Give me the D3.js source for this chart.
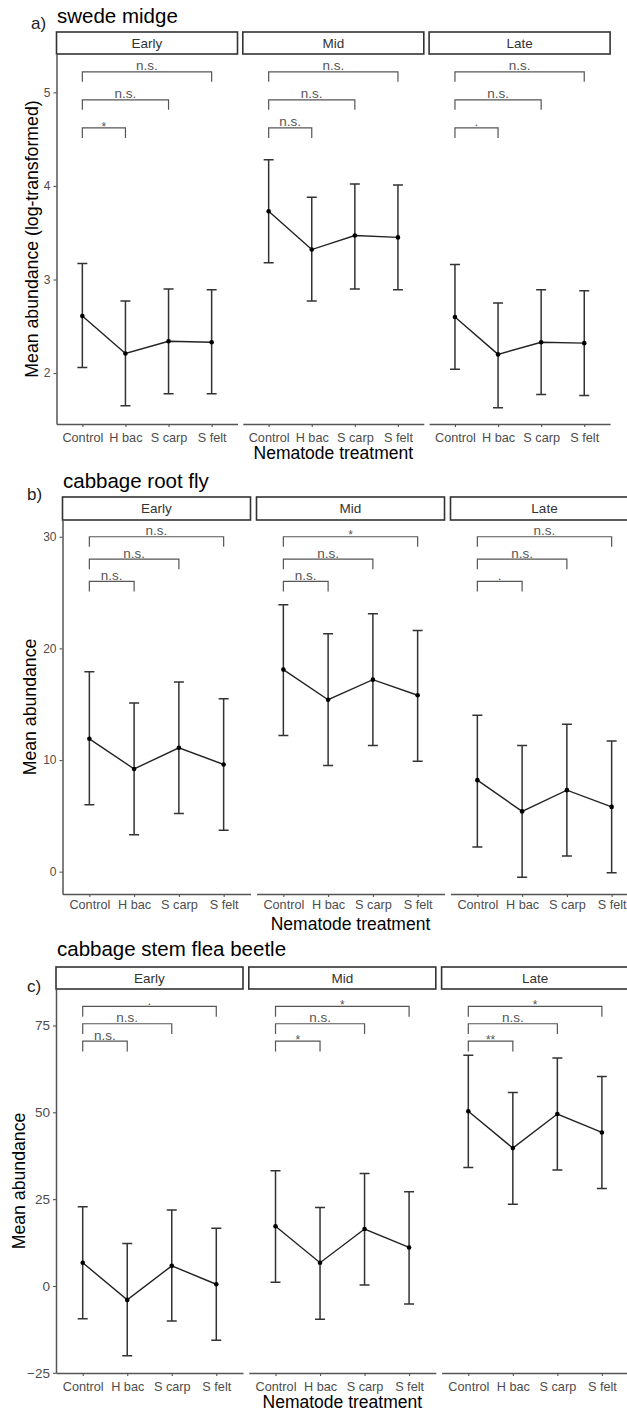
<!DOCTYPE html>
<html>
<head>
<meta charset="utf-8">
<script src="https://cdnjs.cloudflare.com/ajax/libs/d3/7.8.5/d3.min.js"></script>
<style>
  html, body { margin: 0; padding: 0; background: #ffffff; }
  svg { display: block; font-family: "Liberation Sans", Arial, sans-serif; }
</style>
</head>
<body>
<script>
// Shared categories
const treatments = ["Control", "H bac", "S carp", "S felt"];
const periods = ["Early", "Mid", "Late"];

// a) swede midge (log-transformed), one row per period
const midgeMean  = [[2.61, 2.21, 2.34, 2.33], [3.73, 3.32, 3.47, 3.45], [2.60, 2.20, 2.33, 2.32]];
const midgeLower = [[2.06, 1.65, 1.78, 1.78], [3.18, 2.77, 2.90, 2.89], [2.04, 1.63, 1.77, 1.76]];
const midgeUpper = [[3.17, 2.77, 2.90, 2.89], [4.28, 3.88, 4.02, 4.01], [3.16, 2.75, 2.89, 2.88]];
const midgeSig   = [["*", "n.s.", "n.s."], ["n.s.", "n.s.", "n.s."], [".", "n.s.", "n.s."]];
const midgeBracketY = [4.62, 4.92, 5.22];
const midgeTicks = [2, 3, 4, 5];

// b) cabbage root fly
const rootMean  = [[11.9, 9.2, 11.1, 9.6], [18.1, 15.4, 17.2, 15.8], [8.2, 5.4, 7.3, 5.8]];
const rootLower = [[6.0, 3.3, 5.2, 3.7], [12.2, 9.5, 11.3, 9.9], [2.2, -0.5, 1.4, -0.1]];
const rootUpper = [[17.9, 15.1, 17.0, 15.5], [23.9, 21.3, 23.1, 21.6], [14.0, 11.3, 13.2, 11.7]];
const rootSig   = [["n.s.", "n.s.", "n.s."], ["n.s.", "n.s.", "*"], [".", "n.s.", "n.s."]];
const rootBracketY = [26, 28, 30];
const rootTicks = [0, 10, 20, 30];

// c) cabbage stem flea beetle
const beetleMean  = [[6.7, -4.0, 5.8, 0.5], [17.2, 6.7, 16.4, 11.1], [50.3, 39.7, 49.5, 44.2]];
const beetleLower = [[-9.4, -20.1, -10.1, -15.6], [1.1, -9.6, 0.3, -5.2], [34.1, 23.5, 33.4, 28.1]];
const beetleUpper = [[22.8, 12.2, 21.9, 16.6], [33.2, 22.6, 32.4, 27.1], [66.4, 55.7, 65.6, 60.3]];
const beetleSig   = [["n.s.", "n.s.", "."], ["*", "n.s.", "*"], ["**", "n.s.", "*"]];
const beetleBracketY = [70.5, 75.5, 80.5];
const beetleTicks = [-25, 0, 25, 50, 75];

const W = 627, H = 1414;
const svg = d3.select("body").append("svg").attr("width", W).attr("height", H);

const AXIS = "#555555", TEXT_GREY = "#4d4d4d", INK = "#222222";

const plots = [
  {
    letter: "a)", title: "swede midge", yTitle: "Mean abundance (log-transformed)",
    mean: midgeMean, lower: midgeLower, upper: midgeUpper, sig: midgeSig,
    brackets: midgeBracketY, ticks: midgeTicks,
    L: { x0: 56.5, w: 181, step: 186.3, stripTop: 32, plotTop: 54, plotBottom: 424,
         yDomain: [1.456, 5.41], letterX: 31, letterY: 29, titleX: 57, titleY: 23,
         yTitleX: 38, xTickBase: 441.5, xTitleBase: 458.5, yTickFont: 12 }
  },
  {
    letter: "b)", title: "cabbage root fly", yTitle: "Mean abundance",
    mean: rootMean, lower: rootLower, upper: rootUpper, sig: rootSig,
    brackets: rootBracketY, ticks: rootTicks,
    L: { x0: 62.5, w: 188, step: 194, stripTop: 497, plotTop: 520, plotBottom: 894,
         yDomain: [-2.0, 31.5], letterX: 27, letterY: 500, titleX: 63, titleY: 488,
         yTitleX: 36, xTickBase: 909.5, xTitleBase: 930, yTickFont: 12 }
  },
  {
    letter: "c)", title: "cabbage stem flea beetle", yTitle: "Mean abundance",
    mean: beetleMean, lower: beetleLower, upper: beetleUpper, sig: beetleSig,
    brackets: beetleBracketY, ticks: beetleTicks,
    L: { x0: 56, w: 187, step: 192.8, stripTop: 967, plotTop: 989, plotBottom: 1373,
         yDomain: [-25.05, 85.5], letterX: 27, letterY: 992, titleX: 57, titleY: 956,
         yTitleX: 25, xTickBase: 1390.5, xTitleBase: 1408, yTickFont: 13.5 }
  }
];

const TICK_FONT = 12.7;

function drawPlot(spec) {
  const L = spec.L;
  const g = svg.append("g");
  const y = d3.scaleLinear().domain(L.yDomain).range([L.plotBottom, L.plotTop]);
  const tip = 0.027 * (L.yDomain[1] - L.yDomain[0]);

  // figure letter and title
  g.append("text").attr("x", L.letterX).attr("y", L.letterY)
    .attr("font-size", 17).attr("fill", INK).text(spec.letter);
  g.append("text").attr("x", L.titleX).attr("y", L.titleY)
    .attr("font-size", 20.5).attr("fill", "#000").text(spec.title);

  periods.forEach((period, i) => {
    const x0 = L.x0 + i * L.step;
    const x = d3.scalePoint().domain(treatments).range([x0, x0 + L.w]).padding(0.6);

    // facet strip
    g.append("rect")
      .attr("x", x0).attr("y", L.stripTop)
      .attr("width", L.w).attr("height", L.plotTop - L.stripTop)
      .attr("fill", "#fff").attr("stroke", "#333").attr("stroke-width", 1.6);
    g.append("text")
      .attr("x", x0 + L.w / 2).attr("y", (L.stripTop + L.plotTop) / 2 + 4.8)
      .attr("text-anchor", "middle").attr("font-size", 13.5).attr("fill", "#333")
      .text(period);

    // x axis
    const pad = L.xTickBase - L.plotBottom - 3 - 0.71 * TICK_FONT;
    const xa = g.append("g").attr("transform", `translate(0,${L.plotBottom})`)
      .call(d3.axisBottom(x).tickSize(3).tickSizeOuter(0).tickPadding(pad));
    xa.select(".domain").attr("stroke", AXIS).attr("stroke-width", 1.5);
    xa.selectAll(".tick line").attr("stroke", AXIS).attr("stroke-width", 1.1);
    xa.selectAll(".tick text").attr("font-size", TICK_FONT).attr("fill", TEXT_GREY)
      .attr("font-family", null);

    // y axis on the first facet only
    if (i === 0) {
      const ya = g.append("g").attr("transform", `translate(${x0},0)`)
        .call(d3.axisLeft(y).tickValues(spec.ticks).tickSize(3).tickSizeOuter(0).tickPadding(3)
          .tickFormat(d3.format("d")));
      ya.select(".domain").attr("stroke", AXIS).attr("stroke-width", 1.5);
      ya.selectAll(".tick line").attr("stroke", AXIS).attr("stroke-width", 1.1);
      ya.selectAll(".tick text").attr("font-size", L.yTickFont).attr("fill", TEXT_GREY)
        .attr("font-family", null);
    }

    // significance brackets: Control vs each treatment
    spec.brackets.forEach((yv, k) => {
      const xa1 = x(treatments[0]), xb = x(treatments[k + 1]);
      g.append("path")
        .attr("d", `M${xa1},${y(yv - tip)}V${y(yv)}H${xb}V${y(yv - tip)}`)
        .attr("fill", "none").attr("stroke", "#555").attr("stroke-width", 1.2);
      const lab = spec.sig[i][k];
      const star = lab.indexOf("*") >= 0;
      g.append("text")
        .attr("x", (xa1 + xb) / 2)
        .attr("y", y(yv) + (star ? 2.6 : -1.5))
        .attr("text-anchor", "middle")
        .attr("font-size", star ? 12 : 13.5)
        .attr("fill", "#555")
        .text(lab);
    });

    const rows = treatments.map((t, j) => ({
      t, m: spec.mean[i][j], lo: spec.lower[i][j], hi: spec.upper[i][j]
    }));

    // error bars
    rows.forEach(r => {
      const cx = x(r.t);
      g.append("path")
        .attr("d", `M${cx - 5},${y(r.hi)}H${cx + 5}M${cx},${y(r.hi)}V${y(r.lo)}M${cx - 5},${y(r.lo)}H${cx + 5}`)
        .attr("fill", "none").attr("stroke", "#333").attr("stroke-width", 1.5);
    });

    // mean line and points
    g.append("path").datum(rows)
      .attr("d", d3.line().x(r => x(r.t)).y(r => y(r.m)))
      .attr("fill", "none").attr("stroke", INK).attr("stroke-width", 1.4);
    g.selectAll(null).data(rows).enter().append("circle")
      .attr("cx", r => x(r.t)).attr("cy", r => y(r.m)).attr("r", 2.3).attr("fill", "#000");
  });

  // axis titles
  const plotLeft = L.x0, plotRight = L.x0 + 2 * L.step + L.w;
  g.append("text")
    .attr("x", (plotLeft + plotRight) / 2).attr("y", L.xTitleBase)
    .attr("text-anchor", "middle").attr("font-size", 17.5).attr("fill", "#000")
    .text("Nematode treatment");
  g.append("text")
    .attr("transform", `translate(${L.yTitleX},${(L.plotTop + L.plotBottom) / 2}) rotate(-90)`)
    .attr("text-anchor", "middle").attr("font-size", 17.7).attr("fill", "#000")
    .text(spec.yTitle);
}

plots.forEach(drawPlot);
</script>
</body>
</html>
